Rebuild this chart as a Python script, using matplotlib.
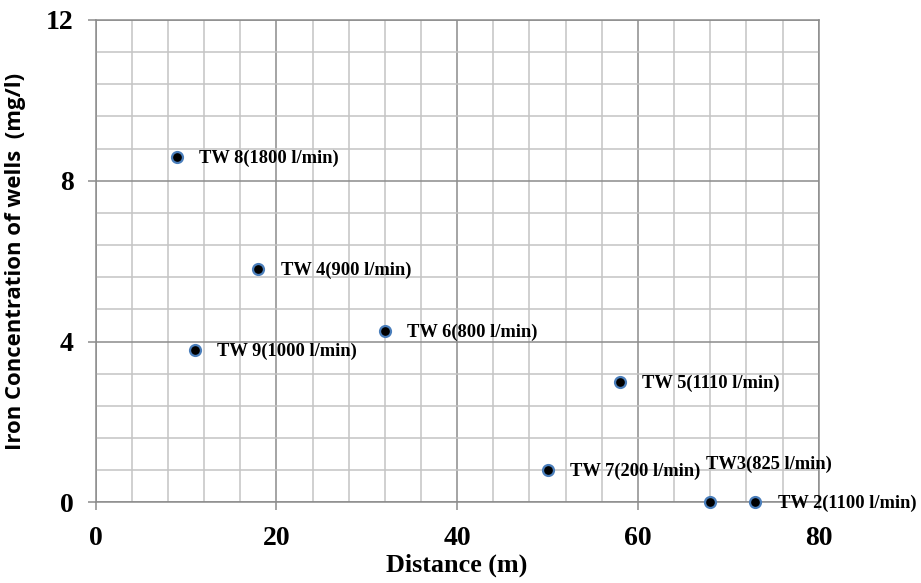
import numpy as np
import matplotlib.pyplot as plt
from matplotlib.ticker import MultipleLocator

# Data
distance = [9, 18, 11, 32, 58, 50, 68, 73]
iron = [8.6, 5.8, 3.8, 4.27, 3.0, 0.8, 0.0, 0.0]
labels = ['TW 8(1800 l/min)', 'TW 4(900 l/min)', 'TW 9(1000 l/min)',
          'TW 6(800 l/min)', 'TW 5(1110 l/min)', 'TW 7(200 l/min)',
          'TW3(825 l/min)', 'TW 2(1100 l/min)']

# label offsets in points (TW3 sits above its marker)
offsets = [(16, -1)] * 6 + [(-3, 27), (16, -1)]

serif = ['Liberation Serif', 'DejaVu Serif']

fig = plt.figure(figsize=(9.21, 5.83), dpi=100)
ax = fig.add_axes([0.1039, 0.1384, 0.785, 0.8273])

ax.scatter(distance, iron, s=62, c='black', edgecolors='#4a7ebb',
           linewidths=1.6, zorder=3, clip_on=False)

for x, y, lab, off in zip(distance, iron, labels, offsets):
    ax.annotate(lab, (x, y), xytext=off, textcoords='offset points',
                ha='left', va='center', fontsize=13.3, fontweight='bold',
                family=serif, annotation_clip=False, zorder=4)

ax.set_xlim(0, 80)
ax.set_ylim(0, 12)
ax.xaxis.set_major_locator(MultipleLocator(20))
ax.xaxis.set_minor_locator(MultipleLocator(4))
ax.yaxis.set_major_locator(MultipleLocator(4))
ax.yaxis.set_minor_locator(MultipleLocator(0.8))

ax.grid(which='major', color='#8c8c8c', lw=1.1)
ax.grid(which='minor', color='#c4c4c4', lw=1.1)
ax.set_axisbelow(True)

for sp in ax.spines.values():
    sp.set_color('#8c8c8c')
    sp.set_linewidth(1.1)

ax.tick_params(which='major', length=6, width=1.1, color='#8c8c8c')
ax.tick_params(axis='x', which='major', pad=11)
ax.tick_params(axis='y', which='major', pad=10)
ax.tick_params(which='minor', length=0)
for t in ax.get_xticklabels() + ax.get_yticklabels():
    t.set_family(serif)
    t.set_fontweight('bold')
    t.set_fontsize(20)

ax.set_xlabel('Distance (m)', family=serif, fontweight='bold', fontsize=18.8, labelpad=2)
ax.set_ylabel('Iron Concentration of wells  (mg/l)', family=['Open Sans', 'DejaVu Sans'],
              fontweight='bold', fontsize=15.9, labelpad=14)

fig.savefig('out.png', dpi=100)
